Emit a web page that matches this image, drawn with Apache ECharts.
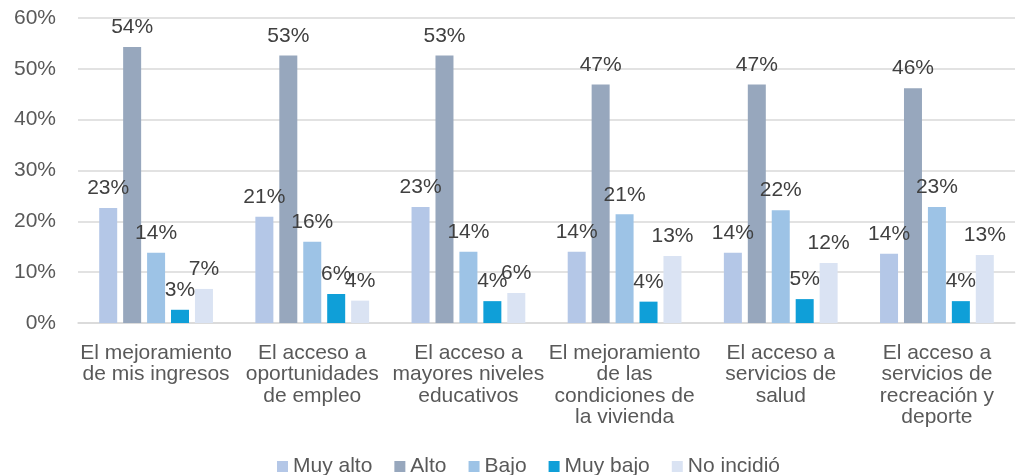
<!DOCTYPE html>
<html>
<head>
<meta charset="utf-8">
<script src="https://cdn.jsdelivr.net/npm/echarts@6/dist/echarts.min.js"></script>
<style>
  html, body { margin: 0; padding: 0; background: #fff; }
  #chart { width: 1019px; height: 475px; }
</style>
</head>
<body>
<div id="chart"></div>
<script>
// categories (line breaks as in the picture)
const categories = [
  'El mejoramiento\nde mis ingresos',
  'El acceso a\noportunidades\nde empleo',
  'El acceso a\nmayores niveles\neducativos',
  'El mejoramiento\nde las\ncondiciones de\nla vivienda',
  'El acceso a\nservicios de\nsalud',
  'El acceso a\nservicios de\nrecreación y\ndeporte'
];

// values in %
const muyAlto  = [22.6, 20.9, 22.8, 14.0, 13.8, 13.6];
const alto     = [54.3, 52.6, 52.6, 46.9, 46.9, 46.2];
const bajo     = [13.8, 16.0, 14.0, 21.4, 22.2, 22.8];
const muyBajo  = [2.6, 5.7, 4.3, 4.2, 4.7, 4.3];
const noIncidio = [6.7, 4.4, 5.9, 13.2, 11.8, 13.4];

const seriesNames = ['Muy alto', 'Alto', 'Bajo', 'Muy bajo', 'No incidió'];
const colors = ['#B4C7E7', '#97A7BD', '#9DC3E6', '#0F9FD8', '#DAE3F3'];

const ec = echarts.init(document.getElementById('chart'));

function makeSeries(name, data, i) {
  return {
    name: name,
    type: 'bar',
    data: data,
    barWidth: 18,
    barGap: '33%',
    itemStyle: { color: colors[i] },
    label: {
      show: true,
      position: 'top',
      distance: 9,
      color: '#404040',
      fontSize: 21,
      fontFamily: 'Liberation Sans',
      formatter: p => Math.round(p.value) + '%'
    }
  };
}

const allData = [muyAlto, alto, bajo, muyBajo, noIncidio];

ec.setOption({
  animation: false,
  grid: { left: 78, right: 4, top: 18, bottom: 152 },
  legend: {
    top: 451,
    left: 272,
    itemWidth: 11,
    itemHeight: 11,
    itemGap: 22,
    icon: 'rect',
    textStyle: { color: '#595959', fontSize: 21, fontFamily: 'Liberation Sans' },
    data: seriesNames
  },
  xAxis: {
    type: 'category',
    data: categories,
    axisTick: { show: false },
    axisLine: { lineStyle: { color: '#D9D9D9', width: 1.5 } },
    axisLabel: {
      color: '#595959',
      fontSize: 21,
      lineHeight: 21.5,
      margin: 19,
      interval: 0,
      fontFamily: 'Liberation Sans'
    }
  },
  yAxis: {
    type: 'value',
    min: 0,
    max: 60,
    interval: 10,
    axisLabel: {
      formatter: '{value}%',
      color: '#595959',
      fontSize: 21,
      margin: 22,
      fontFamily: 'Liberation Sans'
    },
    splitLine: { lineStyle: { color: '#D9D9D9', width: 1.5 } },
    axisLine: { show: false },
    axisTick: { show: false }
  },
  series: seriesNames.map((n, i) => makeSeries(n, allData[i], i))
});
</script>
</body>
</html>
